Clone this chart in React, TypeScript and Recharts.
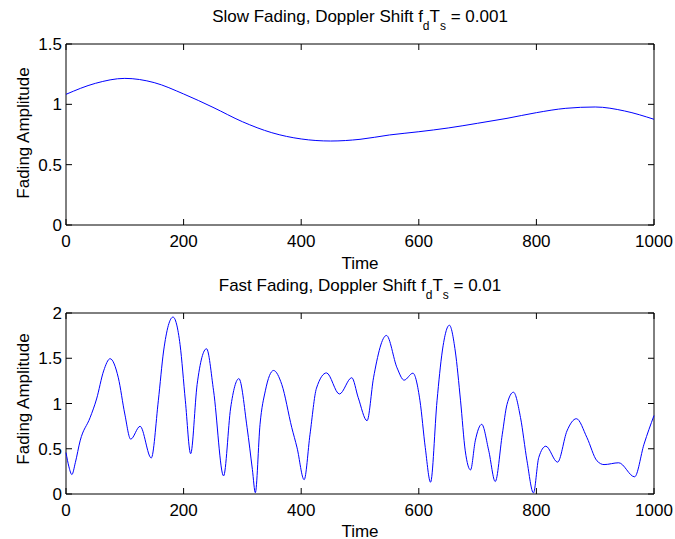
import { LineChart, Line, XAxis, YAxis, ReferenceArea } from "recharts";

// slow fading, fd*Ts = 0.001
const slowTime = [0, 50, 100, 150, 200, 250, 300, 350, 400, 450, 500, 550, 600, 650, 700, 750, 800, 850, 900, 950, 1000];
const slowAmp = [1.083, 1.174, 1.215, 1.18, 1.086, 0.975, 0.856, 0.765, 0.713, 0.696, 0.71, 0.746, 0.773, 0.804, 0.843, 0.884, 0.931, 0.967, 0.978, 0.945, 0.876];

// fast fading, fd*Ts = 0.01
const fastTime = [
  0, 5, 10, 16, 24, 41, 52, 64, 75, 89, 100, 110, 126, 145, 157, 166, 182, 194, 203, 212,
  223, 239, 251, 268, 280, 294, 308, 317, 322, 330, 339, 353, 367, 384, 393, 405, 415, 426, 443, 465,
  486, 497, 512, 523, 545, 563, 575, 590, 602, 611, 620, 631, 640, 652, 662, 671, 679, 688, 696, 707,
  719, 730, 742, 750, 761, 773, 784, 795, 804, 816, 836, 852, 868, 886, 903, 915, 940, 967, 983, 1000,
];
const fastAmp = [
  0.458, 0.3, 0.215, 0.35, 0.587, 0.844, 1.05, 1.36, 1.495, 1.284, 0.884, 0.606, 0.748, 0.398, 1.03, 1.58, 1.955, 1.65, 1.03, 0.445,
  1.21, 1.605, 1.14, 0.2, 0.95, 1.275, 0.733, 0.27, 0.015, 0.77, 1.14, 1.365, 1.21, 0.733, 0.51, 0.158, 0.66, 1.17, 1.338, 1.105,
  1.285, 1.064, 0.81, 1.284, 1.752, 1.394, 1.258, 1.335, 1.03, 0.513, 0.13, 1.03, 1.58, 1.865, 1.58, 1.03, 0.477, 0.266, 0.587, 0.77,
  0.477, 0.138, 0.66, 0.99, 1.125, 0.844, 0.367, 0.012, 0.403, 0.528, 0.352, 0.697, 0.832, 0.623, 0.367, 0.325, 0.345, 0.19, 0.55, 0.867,
];

const timeTicks = [0, 200, 400, 600, 800, 1000];
const slowTicks = [0, 0.5, 1, 1.5];
const fastTicks = [0, 0.5, 1, 1.5, 2];

const slowData = slowTime.map((t, i) => ({ t, v: slowAmp[i] }));
const fastData = fastTime.map((t, i) => ({ t, v: fastAmp[i] }));

const FONT = "'Liberation Sans', Arial, Helvetica, sans-serif";
const PLOT_TOP = 44;
const PLOT_RIGHT = 654;
const TICK = 6;

// MATLAB style: tick marks point inward, mirrored on the top / right edge
function XTick(props: any) {
  const { x, y, payload } = props;
  return (
    <g>
      <line x1={x} x2={x} y1={y} y2={y - TICK} stroke="#000" />
      <line x1={x} x2={x} y1={PLOT_TOP} y2={PLOT_TOP + TICK} stroke="#000" />
      <text x={x} y={y + 22.3} textAnchor="middle" fontSize={17} fontFamily={FONT} fill="#000">
        {payload.value}
      </text>
    </g>
  );
}

function YTick(props: any) {
  const { x, y, payload } = props;
  return (
    <g>
      <line x1={x} x2={x + TICK} y1={y} y2={y} stroke="#000" />
      <line x1={PLOT_RIGHT - TICK} x2={PLOT_RIGHT} y1={y} y2={y} stroke="#000" />
      <text x={x - 4} y={y + 6} textAnchor="end" fontSize={17} fontFamily={FONT} fill="#000">
        {payload.value}
      </text>
    </g>
  );
}

function Panel({ data, yTicks, yMax }: { data: { t: number; v: number }[]; yTicks: number[]; yMax: number }) {
  return (
    <LineChart width={675} height={270} data={data} margin={{ top: PLOT_TOP, right: 675 - PLOT_RIGHT, bottom: 1, left: 16 }}>
      <XAxis
        xAxisId="b"
        dataKey="t"
        type="number"
        domain={[0, 1000]}
        ticks={timeTicks}
        height={44}
        tickSize={0}
        tickMargin={0}
        tick={XTick}
        axisLine={false}
        tickLine={false}
      />
      <YAxis
        yAxisId="l"
        type="number"
        domain={[0, yMax]}
        ticks={yTicks}
        width={50}
        tickSize={0}
        tickMargin={0}
        tick={YTick}
        axisLine={false}
        tickLine={false}
      />
      <ReferenceArea
        xAxisId="b"
        yAxisId="l"
        x1={0}
        x2={1000}
        y1={0}
        y2={yMax}
        fill="none"
        fillOpacity={0}
        stroke="#000"
        strokeWidth={1}
      />
      <Line
        xAxisId="b"
        yAxisId="l"
        type="monotone"
        dataKey="v"
        stroke="#0000ff"
        strokeWidth={1}
        dot={false}
        isAnimationActive={false}
      />
    </LineChart>
  );
}

export default function App() {
  return (
    <div style={{ position: "absolute", left: 0, top: 0, width: 675, height: 539, background: "#fff" }}>
      <div style={{ position: "absolute", left: 0, top: 0 }}>
        <Panel data={slowData} yTicks={slowTicks} yMax={1.5} />
      </div>
      <div style={{ position: "absolute", left: 0, top: 269 }}>
        <Panel data={fastData} yTicks={fastTicks} yMax={2} />
      </div>
      <svg width={675} height={539} style={{ position: "absolute", left: 0, top: 0, pointerEvents: "none" }}>
        <text x={360} y={21.5} textAnchor="middle" fontSize={17} fontFamily={FONT} fill="#000">
          <tspan>Slow Fading, Doppler Shift f</tspan>
          <tspan fontSize={12} dy={8}>d</tspan>
          <tspan dy={-8}>T</tspan>
          <tspan fontSize={12} dy={8}>s</tspan>
          <tspan dy={-8}> = 0.001</tspan>
        </text>
        <text x={360} y={290.5} textAnchor="middle" fontSize={17} fontFamily={FONT} fill="#000">
          <tspan>Fast Fading, Doppler Shift f</tspan>
          <tspan fontSize={12} dy={8}>d</tspan>
          <tspan dy={-8}>T</tspan>
          <tspan fontSize={12} dy={8}>s</tspan>
          <tspan dy={-8}> = 0.01</tspan>
        </text>
        <text x={360} y={268.5} textAnchor="middle" fontSize={17} fontFamily={FONT} fill="#000">Time</text>
        <text x={360} y={536.5} textAnchor="middle" fontSize={17} fontFamily={FONT} fill="#000">Time</text>
        <text x={29} y={133} transform="rotate(-90 29 133)" textAnchor="middle" fontSize={17} fontFamily={FONT} fill="#000">
          Fading Amplitude
        </text>
        <text x={29} y={399} transform="rotate(-90 29 399)" textAnchor="middle" fontSize={17} fontFamily={FONT} fill="#000">
          Fading Amplitude
        </text>
      </svg>
    </div>
  );
}
